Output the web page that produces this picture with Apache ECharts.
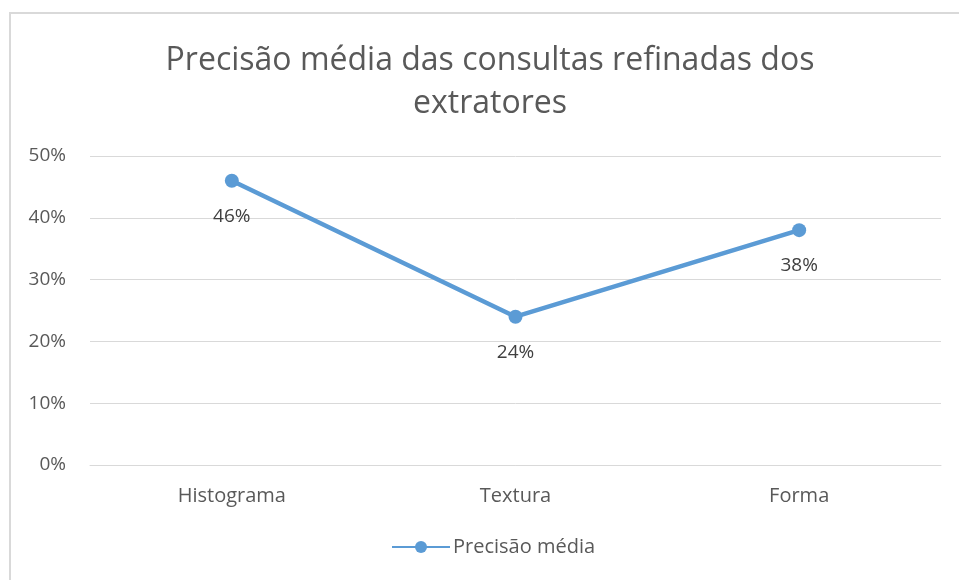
<!DOCTYPE html>
<html>
<head>
<meta charset="utf-8">
<script src="https://cdn.jsdelivr.net/npm/echarts@6/dist/echarts.min.js"></script>
<style>
  html, body { margin: 0; padding: 0; background: #fff; }
  #frame { position: absolute; left: 9px; top: 12px; width: 960px; height: 580px; border: 2px solid #d9d9d9; box-sizing: border-box; }
  #chart { width: 959px; height: 580px; position: absolute; left: 0; top: 0; }
</style>
</head>
<body>
<div id="frame"></div>
<div id="chart"></div>
<script>
const titleText = 'Precisão média das consultas refinadas dos\nextratores';
const categories = ['Histograma', 'Textura', 'Forma'];
const seriesName = 'Precisão média';
const precisao = [0.46, 0.24, 0.38];
const yTicks = [0, 0.1, 0.2, 0.3, 0.4, 0.5];

const fontFam = '"Open Sans", "Noto Sans", sans-serif';
const chart = echarts.init(document.getElementById('chart'));

chart.setOption({
  animation: false,
  title: {
    text: titleText,
    left: 485,
    textAlign: 'center',
    top: 34,
    textStyle: { fontFamily: fontFam, fontSize: 32, fontWeight: 'normal', color: '#595959', lineHeight: 43 }
  },
  legend: {
    bottom: 18,
    left: 386,
    itemWidth: 58,
    itemHeight: 15,
    itemGap: 4,
    data: [seriesName],
    textStyle: { fontFamily: fontFam, fontSize: 20, color: '#595959', padding: [0, 0, 0, -2] }
  },
  grid: { left: 90, right: 18, top: 156, bottom: 115 },
  xAxis: {
    type: 'category',
    data: categories,
    boundaryGap: true,
    axisLine: { lineStyle: { color: '#d9d9d9', width: 1 } },
    axisTick: { show: false },
    axisLabel: { fontFamily: fontFam, fontSize: 20, color: '#595959', margin: 21 }
  },
  yAxis: {
    type: 'value',
    min: yTicks[0],
    max: yTicks[yTicks.length - 1],
    interval: 0.1,
    axisLine: { show: false },
    axisTick: { show: false },
    splitLine: { lineStyle: { color: '#d9d9d9', width: 1 } },
    axisLabel: {
      fontFamily: fontFam, fontSize: 19, color: '#595959', margin: 24,
      formatter: v => Math.round(v * 100) + '%'
    }
  },
  series: [{
    name: seriesName,
    type: 'line',
    data: precisao,
    symbol: 'circle',
    symbolSize: 14,
    lineStyle: { color: '#5B9BD5', width: 4.5 },
    itemStyle: { color: '#5B9BD5' },
    label: {
      show: true,
      position: 'bottom',
      distance: 19,
      fontFamily: fontFam,
      fontSize: 19,
      color: '#404040',
      formatter: p => Math.round(p.value * 100) + '%'
    }
  }]
});
</script>
</body>
</html>
